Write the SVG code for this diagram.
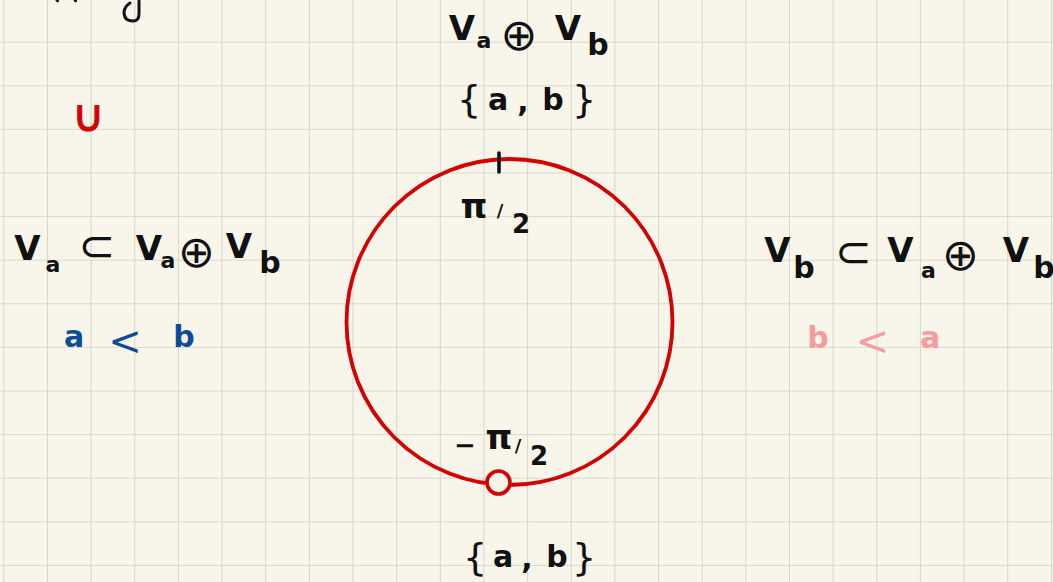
<svg xmlns="http://www.w3.org/2000/svg" width="1053" height="582" viewBox="0 0 1053 582">
<defs>
<pattern id="grid" x="3.3" y="-1.9" width="43.65" height="43.6" patternUnits="userSpaceOnUse">
<path d="M0 0 H43.65 M0 0 V43.6" fill="none" stroke="#d2d1c6" stroke-width="1.7"/>
</pattern>
<style>
.t{font-family:"DejaVu Sans","Noto Sans",sans-serif;font-weight:bold;text-anchor:middle;fill:#111}
.big{font-size:34px}
.op{font-size:44px;font-weight:normal}
.sub{font-size:22px}
.subb{font-size:30px}
.mid{font-size:26px}
.pi{font-size:34px}
.lt{font-size:40px;font-weight:normal}
.blue{fill:#0c4b9a;font-size:30px}
.pink{fill:#f59c9c;font-size:30px}
.ring{fill:none;stroke:#d40000;stroke-width:3.8}
</style>
</defs>
<rect width="1053" height="582" fill="#f8f6eb"/>
<rect width="1053" height="582" fill="url(#grid)"/>

<g id="fragments" fill="none" stroke="#111" stroke-width="3" stroke-linecap="round">
<path d="M57 0 L57.5 0.8 M75 0 L75.5 0.8"/>
<path d="M139 1 L139 14 Q139 21 133 21 Q124 21 124 12 Q125 6 130 3"/>
</g>
<g id="cup"><text class="t" x="88" y="131" style="fill:#d40000;font-size:44px;font-weight:normal;stroke:#d40000;stroke-width:1.2">∪</text></g>

<g id="top-label">
<text class="t">
<tspan class="big" x="462" y="40">V</tspan><tspan class="sub" x="484" y="48">a</tspan><tspan class="op" x="519" y="50">⊕</tspan><tspan class="big" x="568" y="40">V</tspan><tspan class="subb" x="598" y="55">b</tspan>
</text>
<text class="t" style="font-size:30px;font-weight:normal">
<tspan x="469" y="112" font-size="38">{</tspan><tspan x="498" y="110" font-weight="bold">a</tspan><tspan x="523" y="112" font-weight="bold">,</tspan><tspan x="553" y="110" font-weight="bold">b</tspan><tspan x="584" y="112" font-size="38">}</tspan>
</text>
</g>

<g id="circle-node">
<circle class="ring" cx="509.5" cy="322" r="163"/>
<line x1="499" y1="153" x2="499" y2="172" stroke="#111" stroke-width="3.6" stroke-linecap="round"/>
<circle cx="498.5" cy="482.5" r="11.5" fill="#f8f6eb" stroke="#d40000" stroke-width="3.6"/>
<text class="t mid"><tspan class="pi" x="474" y="218">π</tspan><tspan x="500" y="217" font-size="18">/</tspan><tspan x="521" y="233">2</tspan></text>
<text class="t mid"><tspan x="465" y="454">−</tspan><tspan class="pi" x="499" y="449">π</tspan><tspan x="518" y="452" font-size="18">/</tspan><tspan x="539" y="465">2</tspan></text>
</g>

<g id="bottom-label">
<text class="t" style="font-size:30px;font-weight:normal">
<tspan x="475" y="570" font-size="38">{</tspan><tspan x="503" y="567" font-weight="bold">a</tspan><tspan x="527" y="569" font-weight="bold">,</tspan><tspan x="557" y="567" font-weight="bold">b</tspan><tspan x="584" y="570" font-size="38">}</tspan>
</text>
</g>

<g id="left-label">
<text class="t">
<tspan class="big" x="27.5" y="260">V</tspan><tspan class="sub" x="53" y="272">a</tspan><tspan class="op" x="97" y="261">⊂</tspan><tspan class="big" x="149" y="260">V</tspan><tspan class="sub" x="168" y="268">a</tspan><tspan class="op" x="196.5" y="267">⊕</tspan><tspan class="big" x="239" y="258">V</tspan><tspan class="subb" x="270" y="273">b</tspan>
</text>
<text class="t blue"><tspan x="74" y="347">a</tspan><tspan class="lt" x="125" y="355">&lt;</tspan><tspan x="184" y="347">b</tspan></text>
</g>

<g id="right-label">
<text class="t">
<tspan class="big" x="777.5" y="262">V</tspan><tspan class="subb" x="804" y="278">b</tspan><tspan class="op" x="853.5" y="267">⊂</tspan><tspan class="big" x="900.5" y="262">V</tspan><tspan class="sub" x="928.5" y="278">a</tspan><tspan class="op" x="960.5" y="270">⊕</tspan><tspan class="big" x="1016" y="262">V</tspan><tspan class="subb" x="1044" y="278">b</tspan>
</text>
<text class="t pink"><tspan x="818" y="348">b</tspan><tspan class="lt" x="872.5" y="355">&lt;</tspan><tspan x="930" y="348">a</tspan></text>
</g>

<g id="connectors"></g>
</svg>
